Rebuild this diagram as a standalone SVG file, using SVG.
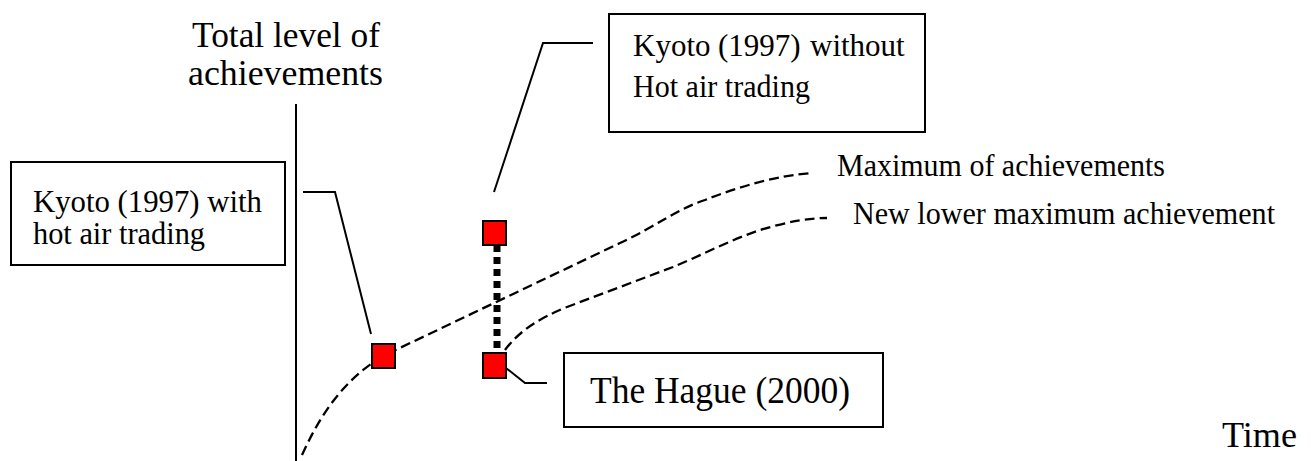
<svg xmlns="http://www.w3.org/2000/svg" width="1311" height="461" viewBox="0 0 1311 461">
<style>
text{font-family:"Liberation Serif","Times New Roman",serif;fill:#000}
.box{fill:#fff;stroke:#000;stroke-width:2}
.ln{fill:none;stroke:#000;stroke-width:2}
.dash{fill:none;stroke:#000;stroke-width:2.3;stroke-dasharray:10 5}
.pt{fill:#ff0000;stroke:#000;stroke-width:2}
</style>
<rect width="1311" height="461" fill="#fff"/>
<g id="axis">
<line class="ln" x1="296" y1="104" x2="296" y2="461"/>
<text x="192" y="47" font-size="36" textLength="188" lengthAdjust="spacingAndGlyphs">Total level of</text>
<text x="188" y="85" font-size="36" textLength="195" lengthAdjust="spacingAndGlyphs">achievements</text>
<text x="1222" y="447" font-size="36" textLength="75" lengthAdjust="spacingAndGlyphs">Time</text>
</g>
<g id="connectors">
<path class="dash" d="M302,455 C318,420 340,382 383,356 L620,243 C655,227 675,210 705,200 C740,186 780,175 813,173"/>
<path class="dash" d="M505,350 C520,330 540,318 567,307 L673,267 C700,256 730,240 760,230 C790,221 810,218 827,218"/>
<line x1="497" y1="245" x2="497" y2="353" stroke="#000" stroke-width="7" stroke-dasharray="7 5"/>
<polyline class="ln" points="303,192 335,192 371,334"/>
<polyline class="ln" points="593,43 543,43 494,192"/>
<polyline class="ln" points="506,368 525,383 547,383"/>
</g>
<g id="point-kyoto-hot-air">
<rect class="pt" x="372" y="344" width="23" height="24"/>
</g>
<g id="point-kyoto-no-hot-air">
<rect class="pt" x="483" y="221" width="23" height="24"/>
</g>
<g id="point-hague">
<rect class="pt" x="483" y="353" width="23" height="25"/>
</g>
<g id="label-kyoto-with">
<rect class="box" x="11" y="162" width="274" height="103"/>
<text x="33" y="212" font-size="31" textLength="229" lengthAdjust="spacingAndGlyphs">Kyoto (1997) with</text>
<text x="33" y="244" font-size="31" textLength="172" lengthAdjust="spacingAndGlyphs">hot air trading</text>
</g>
<g id="label-kyoto-without">
<rect class="box" x="609" y="14" width="316" height="118"/>
<text y="56" font-size="31"><tspan x="633">Kyoto</tspan><tspan x="718">(1997)</tspan><tspan x="810">without</tspan></text>
<text x="633" y="97" font-size="31" textLength="177" lengthAdjust="spacingAndGlyphs">Hot air trading</text>
</g>
<g id="label-hague">
<rect class="box" x="564" y="353" width="319" height="74"/>
<text x="590" y="403" font-size="37" textLength="260" lengthAdjust="spacingAndGlyphs">The Hague (2000)</text>
</g>
<g id="label-max">
<text x="837" y="176" font-size="31" textLength="328" lengthAdjust="spacingAndGlyphs">Maximum of achievements</text>
</g>
<g id="label-new-max">
<text x="853" y="224" font-size="31" textLength="422" lengthAdjust="spacingAndGlyphs">New lower maximum achievement</text>
</g>
</svg>
